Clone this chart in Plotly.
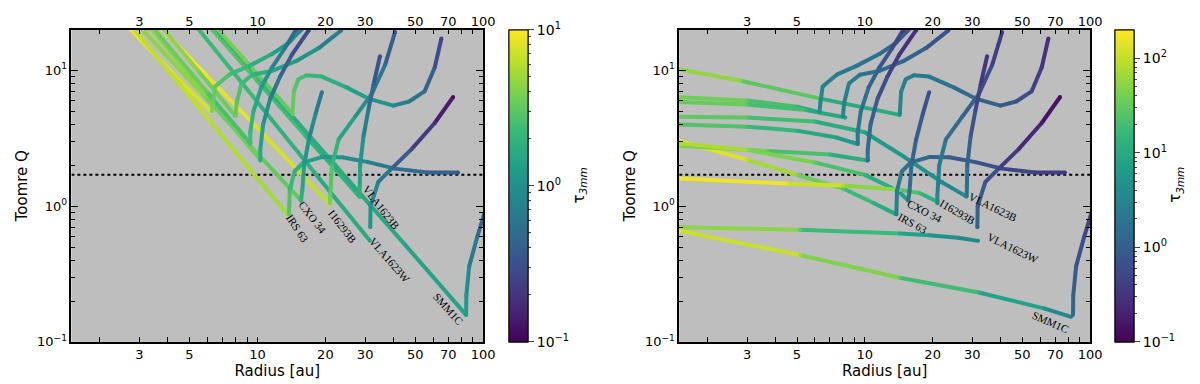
import numpy as np
import plotly.graph_objects as go
from plotly.colors import sample_colorscale

# ---------------------------------------------------------------------------
# Hook curves (rise after the minimum) - same in both panels
# ---------------------------------------------------------------------------
hook_a_r = [6.3, 6.35, 6.5, 7.5, 9.2, 11.6, 13.8, 15.3, 16.2]
hook_a_q = [5.0, 5.8, 7.6, 9.3, 10.8, 13.2, 16.0, 19.2, 21.0]
hook_a_tau = [4.0, 3.6, 3.1, 2.6, 2.0, 1.5, 1.1, 0.9, 0.8]

hook_b_r = [8.0, 8.1, 8.5, 9.5, 11.6, 14.8, 18.7, 23.5]
hook_b_q = [4.6, 5.8, 8.0, 9.3, 9.9, 11.7, 14.6, 19.7]
hook_b_tau = [3.5, 3.0, 2.5, 2.0, 1.6, 1.2, 0.9, 0.6]

hook_c_r = [9.3, 9.3, 9.6, 10.4, 11.6, 13.2, 14.8]
hook_c_q = [2.87, 3.5, 5.0, 7.5, 10.5, 14.5, 19.8]
hook_c_tau = [2.5, 2.2, 1.8, 1.3, 0.9, 0.6, 0.4]

hook_d_r = [10.3, 10.3, 10.6, 11.4, 12.6, 14.2, 16.9]
hook_d_q = [2.17, 2.6, 4.0, 6.2, 9.0, 13.0, 19.8]
hook_d_tau = [1.8, 1.6, 1.2, 0.8, 0.5, 0.35, 0.25]

hook_s_r = [14.3, 14.5, 15.2, 16.5, 19.3, 24.8, 31.0, 40.0, 47.0, 55.0, 61.0, 65.3]
hook_s_q = [4.8, 7.0, 8.6, 9.2, 9.0, 7.5, 6.2, 5.5, 5.9, 7.0, 10.5, 17.2]
hook_s_tau = [3.5, 3.0, 2.6, 2.3, 2.0, 1.6, 1.2, 0.9, 0.7, 0.5, 0.35, 0.25]

hook_irs63_r = [13.8, 13.9, 14.6, 16.0, 19.3, 23.7, 31.0, 40.6, 57.0, 77.4]
hook_irs63_q = [0.87, 1.3, 1.8, 2.1, 2.3, 2.29, 2.11, 1.89, 1.77, 1.77]
hook_irs63_tau = [3.0, 2.5, 2.0, 1.6, 1.2, 1.0, 0.8, 0.6, 0.45, 0.35]

hook_cxo34_r = [15.6, 15.8, 16.1, 16.9, 18.1, 19.3]
hook_cxo34_q = [1.1, 1.3, 2.0, 3.1, 4.8, 6.9]
hook_cxo34_tau = [2.0, 1.7, 1.3, 1.0, 0.8, 0.6]

hook_i16293b_r = [21.0, 21.0, 21.4, 22.9, 27.1, 32.1, 36.8, 40.7]
hook_i16293b_q = [1.05, 1.2, 2.0, 3.1, 4.57, 6.7, 11.0, 19.2]
hook_i16293b_tau = [4.0, 3.5, 2.5, 1.8, 1.2, 0.8, 0.5, 0.3]

hook_vla1623b_r = [28.3, 28.4, 28.5, 29.5, 31.0, 32.7, 34.9]
hook_vla1623b_q = [1.18, 1.4, 2.0, 3.28, 5.1, 7.9, 12.7]
hook_vla1623b_tau = [2.0, 1.7, 1.3, 0.9, 0.6, 0.4, 0.3]

hook_vla1623w_r = [31.6, 31.7, 34.3, 39.3, 48.2, 61.0, 73.6]
hook_vla1623w_q = [0.70, 1.0, 1.51, 1.89, 2.63, 4.1, 6.37]
hook_vla1623w_tau = [1.2, 1.0, 0.7, 0.5, 0.3, 0.18, 0.12]

hook_smm1c_r = [84.0, 84.2, 86.7, 94.0, 101.0]
hook_smm1c_q = [0.158, 0.22, 0.36, 0.59, 0.87]
hook_smm1c_tau = [1.3, 1.1, 0.8, 0.55, 0.4]

# ---------------------------------------------------------------------------
# Left panel: steep inner profiles
# ---------------------------------------------------------------------------
left_a_r = [2.75, 4.2, 6.3]
left_a_q = [20.0, 9.6, 4.9]
left_a_tau = [10.0, 8.0, 7.0]

left_irs63_r = [2.85, 6.2, 10.0, 13.7]
left_irs63_q = [20.0, 4.2, 1.6, 0.86]
left_irs63_tau = [7.0, 6.0, 5.5, 5.0]

left_cxo34_r = [3.1, 6.0, 10.0, 15.7]
left_cxo34_q = [20.0, 6.1, 2.45, 1.09]
left_cxo34_tau = [5.0, 4.0, 3.5, 3.0]

left_d_r = [3.4, 6.0, 10.3]
left_d_q = [20.0, 6.45, 2.2]
left_d_tau = [5.0, 4.0, 3.2]

left_c_r = [3.5, 6.0, 9.3]
left_c_q = [20.0, 6.9, 2.9]
left_c_tau = [4.0, 3.0, 2.2]

left_i16293b_r = [3.8, 5.9, 9.8, 15.0, 21.0]
left_i16293b_q = [20.0, 9.3, 3.9, 1.86, 1.03]
left_i16293b_tau = [10.0, 9.0, 8.0, 7.0, 6.0]

left_b_r = [3.85, 5.5, 8.0]
left_b_q = [20.0, 9.8, 4.6]
left_b_tau = [5.0, 4.0, 3.2]

left_vla1623w_r = [5.5, 10.0, 18.0, 31.5]
left_vla1623w_q = [20.0, 5.85, 1.75, 0.556]
left_vla1623w_tau = [2.5, 2.0, 1.8, 1.5]

left_vla1623b_r = [6.3, 10.0, 16.3, 28.4]
left_vla1623b_q = [20.0, 8.36, 3.3, 1.17]
left_vla1623b_tau = [3.0, 2.6, 2.2, 1.8]

left_smm1c_r = [6.6, 12.0, 25.0, 45.0, 84.0]
left_smm1c_q = [20.0, 6.4, 1.59, 0.521, 0.158]
left_smm1c_tau = [2.0, 1.8, 1.6, 1.5, 1.4]

left_s_r = [6.7, 10.0, 14.3]
left_s_q = [20.0, 9.4, 4.8]
left_s_tau = [4.0, 3.5, 3.0]

# ---------------------------------------------------------------------------
# Right panel: shallow inner profiles
# ---------------------------------------------------------------------------
right_s_r = [1.5, 2.81, 6.34, 14.3]
right_s_q = [10.2, 8.4, 6.2, 4.7]
right_s_tau = [70.0, 45.0, 18.0, 6.0]

right_a_r = [1.5, 3.0, 5.0, 6.34]
right_a_q = [6.35, 6.0, 5.4, 4.9]
right_a_tau = [45.0, 30.0, 15.0, 7.0]

right_b_r = [1.5, 3.0, 5.5, 8.2]
right_b_q = [5.85, 5.6, 5.1, 4.5]
right_b_tau = [40.0, 28.0, 14.0, 6.0]

right_vla1623b_r = [1.5, 3.0, 6.0, 10.0, 15.0, 22.0, 28.2]
right_vla1623b_q = [4.56, 4.5, 4.2, 3.5, 2.3, 1.5, 1.18]
right_vla1623b_tau = [35.0, 25.0, 15.0, 8.0, 5.0, 4.0, 3.0]

right_c_r = [1.5, 3.0, 5.0, 7.5, 9.3]
right_c_q = [4.0, 3.85, 3.6, 3.2, 2.87]
right_c_tau = [30.0, 20.0, 12.0, 7.0, 5.0]

right_irs63_r = [1.5, 3.0, 5.0, 8.0, 11.0, 13.8]
right_irs63_q = [3.02, 2.2, 1.7, 1.35, 1.05, 0.87]
right_irs63_tau = [200.0, 100.0, 50.0, 25.0, 12.0, 8.0]

right_d_r = [1.5, 3.7, 7.0, 10.3]
right_d_q = [2.78, 2.55, 2.4, 2.17]
right_d_tau = [60.0, 30.0, 15.0, 8.0]

right_cxo34_r = [1.5, 3.0, 6.0, 10.0, 14.0, 15.6]
right_cxo34_q = [2.9, 2.6, 2.1, 1.7, 1.3, 1.1]
right_cxo34_tau = [100.0, 60.0, 30.0, 15.0, 8.0, 6.0]

right_i16293b_r = [1.5, 4.5, 8.0, 14.3, 17.5, 21.0]
right_i16293b_q = [1.6, 1.47, 1.42, 1.32, 1.25, 1.08]
right_i16293b_tau = [200.0, 150.0, 80.0, 35.0, 18.0, 10.0]

right_vla1623w_r = [1.5, 5.15, 14.3, 19.3, 26.0, 31.8]
right_vla1623w_q = [0.70, 0.67, 0.63, 0.61, 0.585, 0.555]
right_vla1623w_tau = [90.0, 30.0, 10.0, 6.0, 4.0, 3.0]

right_smm1c_r = [1.5, 5.15, 14.3, 32.1, 63.0, 82.4]
right_smm1c_q = [0.66, 0.437, 0.297, 0.231, 0.176, 0.153]
right_smm1c_tau = [180.0, 70.0, 30.0, 12.0, 5.0, 2.5]

# ---------------------------------------------------------------------------
# Labels and ticks
# ---------------------------------------------------------------------------
label_names = ["IRS 63", "CXO 34", "I16293B", "VLA1623B", "VLA1623W", "SMM1C"]
left_label_r = [15.0, 17.5, 23.7, 35.2, 38.5, 70.2]
left_label_q = [0.69, 0.83, 0.71, 0.98, 0.40, 0.175]
left_label_angle = [56, 52, 52, 52, 49, 48]
right_label_r = [16.2, 18.4, 25.9, 37.0, 45.3, 66.5]
right_label_q = [0.75, 0.92, 0.90, 0.99, 0.49, 0.139]
right_label_angle = [28, 27, 30, 26, 26, 24]

q_crit = 1.7
x_ticks = [2, 3, 4, 5, 6, 7, 8, 9, 10, 20, 30, 40, 50, 60, 70, 80, 90, 100]
x_labels = ["", "3", "", "5", "", "", "", "", "10", "20", "30", "", "50", "", "70", "", "", "100"]
y_major = [0.1, 1, 10]
y_major_labels = ["10<sup>\u22121</sup>", "10<sup>0</sup>", "10<sup>1</sup>"]
y_minor = [0.2, 0.3, 0.4, 0.5, 0.6, 0.7, 0.8, 0.9, 2, 3, 4, 5, 6, 7, 8, 9]
cbar_left_ticks = [0.1, 1, 10]
cbar_left_labels = ["10<sup>\u22121</sup>", "10<sup>0</sup>", "10<sup>1</sup>"]
cbar_right_ticks = [0.1, 1, 10, 100]
cbar_right_labels = ["10<sup>\u22121</sup>", "10<sup>0</sup>", "10<sup>1</sup>", "10<sup>2</sup>"]
cbar_minor = [0.2, 0.3, 0.4, 0.5, 0.6, 0.7, 0.8, 0.9, 2, 3, 4, 5, 6, 7, 8, 9,
              20, 30, 40, 50, 60, 70, 80, 90]

hooks = [
    (hook_a_r, hook_a_q, hook_a_tau),
    (hook_b_r, hook_b_q, hook_b_tau),
    (hook_c_r, hook_c_q, hook_c_tau),
    (hook_d_r, hook_d_q, hook_d_tau),
    (hook_s_r, hook_s_q, hook_s_tau),
    (hook_irs63_r, hook_irs63_q, hook_irs63_tau),
    (hook_cxo34_r, hook_cxo34_q, hook_cxo34_tau),
    (hook_i16293b_r, hook_i16293b_q, hook_i16293b_tau),
    (hook_vla1623b_r, hook_vla1623b_q, hook_vla1623b_tau),
    (hook_vla1623w_r, hook_vla1623w_q, hook_vla1623w_tau),
    (hook_smm1c_r, hook_smm1c_q, hook_smm1c_tau),
]
left_lines = [
    (left_a_r, left_a_q, left_a_tau),
    (left_irs63_r, left_irs63_q, left_irs63_tau),
    (left_cxo34_r, left_cxo34_q, left_cxo34_tau),
    (left_d_r, left_d_q, left_d_tau),
    (left_c_r, left_c_q, left_c_tau),
    (left_i16293b_r, left_i16293b_q, left_i16293b_tau),
    (left_b_r, left_b_q, left_b_tau),
    (left_vla1623w_r, left_vla1623w_q, left_vla1623w_tau),
    (left_vla1623b_r, left_vla1623b_q, left_vla1623b_tau),
    (left_smm1c_r, left_smm1c_q, left_smm1c_tau),
    (left_s_r, left_s_q, left_s_tau),
]
right_lines = [
    (right_s_r, right_s_q, right_s_tau),
    (right_a_r, right_a_q, right_a_tau),
    (right_b_r, right_b_q, right_b_tau),
    (right_vla1623b_r, right_vla1623b_q, right_vla1623b_tau),
    (right_c_r, right_c_q, right_c_tau),
    (right_irs63_r, right_irs63_q, right_irs63_tau),
    (right_d_r, right_d_q, right_d_tau),
    (right_cxo34_r, right_cxo34_q, right_cxo34_tau),
    (right_i16293b_r, right_i16293b_q, right_i16293b_tau),
    (right_vla1623w_r, right_vla1623w_q, right_vla1623w_tau),
    (right_smm1c_r, right_smm1c_q, right_smm1c_tau),
]

LW = 4.0
X_RANGE = [np.log10(1.5), 2.0]
Y_RANGE = [-1.0, np.log10(20.0)]
LEFT_C = (-1.0, 1.0)
RIGHT_C = (-1.0, np.log10(200.0))


def add_curve(fig, r, q, tau, xa, ya, crange):
    cmin, cmax = crange
    z = np.clip((np.log10(tau) - cmin) / (cmax - cmin), 0, 1)
    for i in range(len(r) - 1):
        col = sample_colorscale("Viridis", [(z[i] + z[i + 1]) / 2])[0]
        fig.add_trace(go.Scatter(
            x=r[i:i + 2], y=q[i:i + 2], mode="lines",
            line=dict(color=col, width=LW),
            xaxis=xa, yaxis=ya, hoverinfo="skip", showlegend=False,
        ))
    fig.add_trace(go.Scatter(
        x=r, y=q, mode="markers",
        marker=dict(size=LW, color=np.log10(tau), colorscale="Viridis",
                    cmin=cmin, cmax=cmax, line=dict(width=0)),
        xaxis=xa, yaxis=ya, hoverinfo="skip", showlegend=False,
    ))


def add_colorbar(fig, x0, crange, ticks, labels):
    cmin, cmax = crange
    common = dict(thickness=19, thicknessmode="pixels", len=319 / 384, lenmode="fraction",
                  x=x0, xanchor="left", y=1 - 181.5 / 384, yanchor="middle",
                  xpad=0, ypad=0, outlinewidth=1, outlinecolor="black")
    minor = [np.log10(v) for v in cbar_minor if cmin <= np.log10(v) <= cmax]
    major = [np.log10(v) for v in ticks]
    for vals, text, tlen, tfont in [(minor, [""] * len(minor), 3, None),
                                    (major, labels, 6, dict(size=14, color="black"))]:
        cb = dict(**common, tickvals=vals, ticktext=text, ticks="outside", ticklen=tlen, tickwidth=1)
        if tfont:
            cb["tickfont"] = tfont
        fig.add_trace(go.Scatter(
            x=[10], y=[10], mode="markers", xaxis="x", yaxis="y", hoverinfo="skip",
            marker=dict(size=1, opacity=0, color=[cmin], colorscale="Viridis",
                        cmin=cmin, cmax=cmax, showscale=True, colorbar=cb),
            showlegend=False,
        ))


fig = go.Figure()

for xa, ya, lines, crange in [("x", "y", left_lines, LEFT_C), ("x2", "y2", right_lines, RIGHT_C)]:
    fig.add_trace(go.Scatter(
        x=[1.5, 100], y=[q_crit, q_crit], mode="lines",
        line=dict(color="black", width=2, dash="dot"),
        xaxis=xa, yaxis=ya, hoverinfo="skip", showlegend=False,
    ))
    for r, q, tau in lines:
        add_curve(fig, r, q, tau, xa, ya, crange)
    for r, q, tau in hooks:
        add_curve(fig, r, q, tau, xa, ya, crange)

# invisible traces so the top axes get drawn
for xa, ya in [("x3", "y"), ("x4", "y2")]:
    fig.add_trace(go.Scatter(x=[10], y=[1], mode="markers", marker=dict(size=1, opacity=0),
                             xaxis=xa, yaxis=ya, hoverinfo="skip", showlegend=False))

add_colorbar(fig, 506 / 1200, LEFT_C, cbar_left_ticks, cbar_left_labels)
add_colorbar(fig, 1118 / 1200, RIGHT_C, cbar_right_ticks, cbar_right_labels)

xcommon = dict(type="log", range=X_RANGE, tickvals=x_ticks, ticktext=x_labels, ticks="inside",
               ticklen=5, tickwidth=1.2, tickcolor="black", showgrid=False, zeroline=False,
               tickfont=dict(size=13, color="black"))
ycommon = dict(type="log", range=Y_RANGE, tickvals=y_major, ticktext=y_major_labels, ticks="inside",
               ticklen=7, tickwidth=1.2, tickcolor="black", showgrid=False, zeroline=False,
               showline=True, linecolor="black", linewidth=1.5, mirror="ticks",
               minor=dict(tickvals=y_minor, ticks="inside", ticklen=4, tickwidth=1, tickcolor="black"),
               tickfont=dict(size=13, color="black"),
               title=dict(text="Toomre Q", font=dict(size=15, color="black"), standoff=6))
xtitle = dict(text="Radius [au]", font=dict(size=15, color="black"), standoff=4)

ydom = [1 - 341 / 384, 1 - 22 / 384]
fig.update_layout(
    width=1200, height=384,
    margin=dict(l=0, r=0, t=0, b=0),
    paper_bgcolor="white", plot_bgcolor="#bebebe",
    font=dict(family="DejaVu Sans", size=12, color="black"),
    showlegend=False,
    xaxis=dict(**xcommon, domain=[64 / 1200, 480 / 1200], anchor="y",
               showline=True, linecolor="black", linewidth=1.5, mirror="ticks", title=xtitle),
    xaxis2=dict(**xcommon, domain=[678 / 1200, 1093 / 1200], anchor="y2",
                showline=True, linecolor="black", linewidth=1.5, mirror="ticks", title=xtitle),
    xaxis3=dict(**{**xcommon, "ticks": ""}, overlaying="x", side="top", anchor="y", showline=False),
    xaxis4=dict(**{**xcommon, "ticks": ""}, overlaying="x2", side="top", anchor="y2", showline=False),
    yaxis=dict(**ycommon, domain=ydom, anchor="x"),
    yaxis2=dict(**ycommon, domain=ydom, anchor="x2"),
)

annotations = []
for xr, yr, rs, qs, angs in [("x", "y", left_label_r, left_label_q, left_label_angle),
                             ("x2", "y2", right_label_r, right_label_q, right_label_angle)]:
    for name, r, q, a in zip(label_names, rs, qs, angs):
        annotations.append(dict(
            x=np.log10(r), y=np.log10(q), xref=xr, yref=yr, text=name, showarrow=False,
            textangle=a, font=dict(family="Liberation Serif", size=11, color="black"),
        ))
tau_label = "\u03c4<sub><i>3mm</i></sub>"
for xpix in [577, 1191]:
    annotations.append(dict(x=xpix / 1200, y=1 - 181 / 384, xref="paper", yref="paper", text=tau_label,
                            showarrow=False, textangle=-90, font=dict(size=15, color="black")))
fig.update_layout(annotations=annotations)

fig.write_html("out.html")
